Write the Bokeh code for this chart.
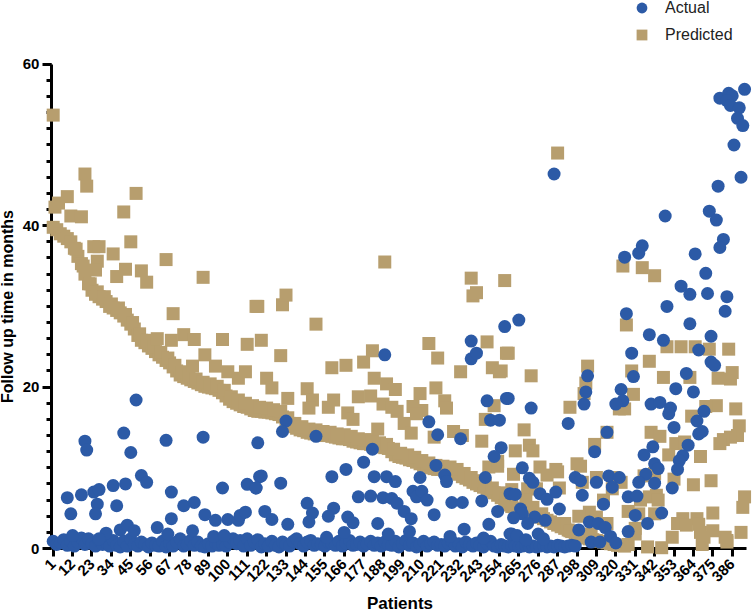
from math import pi
from bokeh.plotting import figure
from bokeh.models import Range1d, FixedTicker, Legend, LegendItem
from bokeh.embed import file_html
from bokeh.resources import INLINE

x_ticks = list(range(1, 387, 11))
y_ticks = [0, 20, 40, 60]

# Actual: low band (patients 1, 3, 5 ... 297)
actual_band_patients = list(range(1, 298, 2))
actual_band_months = [
 0.9,0.5,0.7,1.1,0.4,0.9,0.3,0.8,1.3,0.5,1.2,0.6,0.3,1.0,0.5,0.8,0.3,1.0,0.4,0.2,
 0.9,0.3,1.2,0.5,0.3,0.8,0.5,0.2,0.7,0.4,0.3,0.9,0.2,0.6,0.3,0.8,1.2,0.3,0.5,1.0,
 0.4,0.8,0.3,0.2,0.6,0.3,0.7,0.4,0.5,0.3,0.8,1.2,0.6,1.0,0.3,1.2,0.4,0.8,1.1,0.2,
 0.6,0.3,0.9,0.4,0.2,0.8,0.5,0.3,0.9,1.2,0.6,0.3,0.8,1.0,0.4,0.6,0.5,0.3,0.8,0.6,
 0.4,0.9,0.3,0.7,1.0,0.4,0.5,0.8,0.3,0.6,0.9,0.4,0.7,0.3,0.8,0.5,0.4,0.9,0.2,0.6,
 1.0,0.4,0.7,0.2,0.5,0.9,0.3,0.6,0.8,0.4,0.5,0.3,0.7,0.9,0.3,0.6,0.2,0.8,0.5,0.3,
 0.7,0.4,0.2,0.6,0.9,0.3,0.2,0.5,0.3,0.2,0.4,0.3,0.2,0.3,0.4,0.2,0.3,0.2,0.3,0.4,
 0.2,0.3,0.2,0.4,0.3,0.2,0.3,0.4,0.3]

# Actual: scattered patients
actual_patients = [
 48,41,19,20,65,86,45,117,51,54,118,9,17,24,27,35,42,68,97,111,116,11,26,25,37,75,81,68,87,93,
 100,106,107,110,60,39,43,47,80,31,66,12,27,92,98,
 133,131,119,116,130,121,125,134,145,148,146,150,159,167,177,160,157,168,171,174,181,183,182,189,
 190,195,188,193,196,185,200,204,191,203,205,207,210,213,209,217,214,219,218,223,224,227,233,234,
 232,238,238,241,246,244,248,253,247,249,254,258,257,255,251,260,166,156,226,245,260,
 265,326,349,362,382,339,347,374,367,329,374,376,304,330,360,354,364,323,303,324,320,302,259,272,
 340,345,351,350,370,366,353,293,367,369,315,308,361,341,336,358,356,355,342,344,267,271,273,263,
 277,281,286,297,300,301,309,316,322,318,337,333,342,352,327,332,313,288,266,267,262,274,270,280,
 331,346,338,305,310,314,327,299,261,264,269,276,279,317,320,306,311,
 393,379,384,386,383,385,390,389,392,387,391,378,285,348,373,377,381,379,335,333,325,365,371,357,
 362,372,383]
actual_months = [
 18.4,14.3,13.3,12.2,13.4,13.8,11.9,13.1,9.05,8.2,8.9,6.3,6.65,7.0,7.3,7.8,8.0,7.0,7.5,7.95,7.5,4.3,5.5,4.3,5.3,5.3,5.7,3.7,4.2,3.5,
 3.6,3.5,4.1,4.5,2.6,2.3,2.9,2.2,2.2,1.9,1.8,1.6,1.2,1.5,1.6,
 15.8,14.5,9.0,7.5,8.1,4.6,3.6,3.0,5.6,4.4,3.3,13.9,8.9,9.8,10.7,5.0,4.0,3.9,3.2,6.4,6.5,8.9,12.3,24.0,
 8.9,8.3,6.3,6.2,5.6,3.1,4.6,3.7,1.8,2.1,7.1,6.4,7.1,6.0,8.8,4.2,15.7,14.1,10.3,9.1,8.3,5.7,5.7,2.4,
 13.6,25.7,23.5,24.2,8.8,5.9,3.0,4.6,18.3,15.9,15.9,18.6,27.5,12.5,11.4,6.8,2.0,1.4,1.5,1.3,1.8,
 28.3,29.1,30.0,27.85,29.4,26.5,25.8,26.3,24.6,24.2,23.1,22.7,21.4,21.3,21.7,19.8,19.4,19.7,19.4,18.3,17.9,17.9,18.6,17.4,
 17.9,18.1,17.4,16.7,17.0,15.8,15.0,15.5,14.2,14.5,14.4,12.0,12.8,12.6,11.6,11.5,10.9,9.8,10.5,9.9,10.0,8.7,8.2,6.7,
 6.8,6.1,7.0,8.8,8.4,6.6,8.2,9.0,8.8,7.6,9.2,8.2,8.1,7.5,6.4,6.5,5.5,4.9,4.9,4.3,3.8,3.9,3.1,3.5,
 4.1,4.4,3.1,3.3,3.1,2.6,2.1,2.3,1.8,1.6,1.1,1.8,1.2,1.5,0.7,0.8,0.8,
 56.9,55.8,56.4,56.1,55.5,54.9,54.6,53.3,52.4,50.0,46.0,44.9,46.4,41.2,41.8,40.7,38.3,37.3,37.5,36.6,36.1,36.5,34.1,32.5,
 31.5,31.6,31.2]

# Predicted: the falling band (patients 1, 3, 5 ... 325)
predicted_band_patients = list(range(1, 326, 2))
predicted_band_months = [
 39.8,39.5,39.0,38.7,38.4,38.0,37.2,36.2,35.3,34.0,32.8,32.0,31.5,31.2,30.9,30.6,30.0,29.8,29.5,29.2,
 28.8,28.3,27.8,27.2,26.4,25.8,25.5,25.1,24.8,24.4,24.0,23.7,23.3,23.0,22.5,22.0,21.5,21.3,21.1,20.9,
 20.7,20.5,20.3,20.1,20.0,19.9,19.8,19.6,19.3,18.9,18.5,18.2,18.0,17.8,17.6,17.5,17.3,17.1,17.0,17.0,
 16.9,16.9,16.8,16.7,16.6,16.3,15.9,15.5,15.1,14.9,14.7,14.6,14.4,14.3,14.2,14.2,14.1,14.0,14.0,13.9,
 13.8,13.7,13.6,13.6,13.5,13.3,13.2,13.1,13.0,13.0,12.9,12.8,12.7,12.6,12.5,12.4,12.0,11.6,11.4,11.3,
 11.2,11.0,10.9,10.7,10.5,10.3,10.2,10.0,9.9,9.8,9.8,9.7,9.7,9.6,9.4,9.2,8.9,8.7,8.5,8.2,
 8.0,7.8,7.6,7.3,7.1,6.9,6.6,6.3,5.8,5.4,5.2,5.0,4.9,4.8,4.6,4.4,4.2,4.0,3.9,3.7,
 3.5,3.3,3.1,2.9,2.7,2.5,2.3,2.1,1.9,1.7,1.5,1.3,1.2,1.1,1.0,0.9,0.8,0.7,0.6,0.5,
 0.4,0.4,0.3]

# Predicted: upper edge of the falling band (patients 14, 18, 22 ... 258)
predicted_edge_patients = list(range(14, 259, 4))
predicted_edge_months = [
 37.1,35.0,32.8,31.8,31.2,30.3,29.8,29.0,28.0,26.6,25.8,25.0,24.3,23.6,22.7,21.9,21.5,21.0,20.6,20.4,
 20.1,19.6,18.8,18.4,18.0,17.7,17.5,17.4,17.2,17.0,16.2,15.5,15.1,14.8,14.7,14.5,14.4,14.2,14.1,13.9,
 13.6,13.5,13.3,13.1,12.9,12.3,11.8,11.6,11.3,10.9,10.6,10.3,10.2,10.1,9.8,9.3,8.8,8.4,7.9,7.5,
 6.9,6.1]

# Predicted: scattered patients
predicted_patients = [
 1,2,4,9,19,20,48,41,11,17,45,24,27,35,26,65,42,25,37,51,54,86,116,69,
 60,68,75,81,97,111,87,80,93,100,110,106,
 189,238,257,239,241,117,131,133,150,214,219,247,258,250,254,232,119,130,159,167,177,182,183,190,195,
 122,125,134,145,148,146,157,160,168,171,174,181,188,193,196,185,200,204,205,209,210,207,218,223,224,
 228,233,217,244,246,251,248,253,
 326,259,255,272,339,349,357,365,373,384,304,329,303,302,330,347,362,378,385,386,294,322,325,388,377,371,363,
 268,263,271,273,340,345,390,389,385,381,379,354,359,350,368,308,315,277,286,281,298,300,262,288,309,301,
 319,323,318,336,342,353,374,364,261,270,275,313,334,339,343,344,327,333,342,393,392,375,366,358,355,360,
 352,368,375,370,369,382,383,391,338,346,327,331,305,299,309,315,306,291,285,294,278,273,269,258,
 287,287,253,383,367,331,324,335,342]
predicted_months = [
 53.7,42.3,42.8,43.6,46.4,44.9,44.0,41.7,41.2,41.1,38.0,37.4,37.4,36.5,35.6,35.8,34.6,34.5,33.7,34.4,33.0,33.6,30.0,29.1,
 26.0,25.8,26.5,25.9,25.9,25.3,24.0,22.6,22.6,21.9,21.9,21.1,
 35.5,33.5,33.2,31.3,31.7,30.0,30.2,31.4,27.8,25.4,23.6,25.6,24.2,22.4,21.9,21.9,25.8,23.9,22.4,22.7,23.1,24.5,21.1,20.4,19.7,
 21.1,19.9,18.6,19.8,18.4,17.4,17.5,18.4,16.8,16.0,18.8,18.9,17.9,17.5,17.0,14.8,15.5,14.3,17.6,19.2,17.1,16.7,19.9,18.3,17.4,
 14.5,14.0,13.8,13.3,16.0,17.7,10.1,10.8,
 27.7,24.2,22.0,21.4,23.2,25.0,25.0,25.0,24.7,24.7,22.6,22.0,20.5,19.2,19.1,21.2,21.2,21.1,21.0,21.8,17.5,17.3,17.3,17.3,17.7,17.6,16.4,
 14.7,12.1,12.8,12.1,14.4,13.9,15.2,14.0,13.8,13.5,13.0,13.0,13.2,11.6,11.4,12.9,14.4,10.1,9.8,9.1,10.5,10.2,9.2,7.5,8.8,8.2,
 8.8,8.2,7.4,9.0,9.3,8.6,8.4,7.9,7.3,7.4,7.4,6.0,6.0,6.4,6.6,6.0,4.6,4.3,4.3,6.4,5.1,4.4,3.7,3.7,3.1,2.9,
 1.4,2.0,2.2,1.4,0.5,1.4,0.8,2.0,0.2,0.1,0.5,1.8,4.5,4.0,3.9,3.1,1.8,3.1,3.1,2.2,4.3,5.1,6.0,5.7,
 49.0,9.5,10.2,1.0,3.0,2.5,35.0,34.8,33.8]

BLUE = "#2C5AA6"
TAN = "#B79E6E"
FONT = "Liberation Sans"

p = figure(width=752, height=613, output_backend="svg", toolbar_location=None,
           x_range=Range1d(-28.88, 397.5), y_range=Range1d(-8.05, 67.9),
           min_border=0, outline_line_color=None, background_fill_color="white")
p.grid.visible = False

pred = p.scatter(predicted_band_patients + predicted_edge_patients + predicted_patients,
                 predicted_band_months + predicted_edge_months + predicted_months,
                 marker="square", size=13, color=TAN, line_color=None, level="overlay")
act = p.scatter(actual_band_patients + actual_patients,
                actual_band_months + actual_months,
                marker="circle", size=13, color=BLUE, line_color=None, level="overlay")

xa = p.xaxis[0]
xa.fixed_location = 0
xa.bounds = (1, 394)
xa.ticker = FixedTicker(ticks=x_ticks)
xa.major_label_orientation = pi / 4
xa.major_label_text_font = FONT
xa.major_label_text_font_style = "bold"
xa.major_label_text_font_size = "15px"
xa.major_label_text_color = "black"
xa.major_label_standoff = 5
xa.axis_line_width = 3
xa.axis_line_color = "black"
xa.major_tick_line_width = 3
xa.major_tick_line_color = "black"
xa.major_tick_in = 0
xa.major_tick_out = 8
xa.minor_tick_line_color = None
xa.axis_label = "Patients"
xa.axis_label_text_font = FONT
xa.axis_label_text_font_style = "bold"
xa.axis_label_text_font_size = "17px"
xa.axis_label_text_color = "black"
xa.axis_label_standoff = 5

ya = p.yaxis[0]
ya.fixed_location = 0
ya.bounds = (0, 60)
ya.ticker = FixedTicker(ticks=y_ticks, minor_ticks=list(range(0, 61, 2)))
ya.major_label_text_font = FONT
ya.major_label_text_font_style = "bold"
ya.major_label_text_font_size = "15px"
ya.major_label_text_color = "black"
ya.major_label_standoff = 3
ya.axis_line_width = 3
ya.axis_line_color = "black"
ya.major_tick_line_width = 3
ya.major_tick_line_color = "black"
ya.major_tick_in = 0
ya.major_tick_out = 9
ya.minor_tick_line_width = 3
ya.minor_tick_line_color = "black"
ya.minor_tick_in = 0
ya.minor_tick_out = 5
ya.axis_label = "Follow up time in months"
ya.axis_label_text_font = FONT
ya.axis_label_text_font_style = "bold"
ya.axis_label_text_font_size = "16px"
ya.axis_label_text_color = "black"
ya.axis_label_standoff = 4

legend = Legend(items=[LegendItem(label="Actual", renderers=[act]),
                       LegendItem(label="Predicted", renderers=[pred])],
                location=(628, 565), orientation="vertical",
                border_line_color=None, background_fill_alpha=0,
                padding=0, margin=0, spacing=0, glyph_width=27, glyph_height=27,
                label_height=27, label_standoff=10,
                label_text_font=FONT, label_text_font_size="16px", label_text_color="#222222")
p.add_layout(legend, "center")

open("out.html", "w").write(file_html(p, INLINE))
